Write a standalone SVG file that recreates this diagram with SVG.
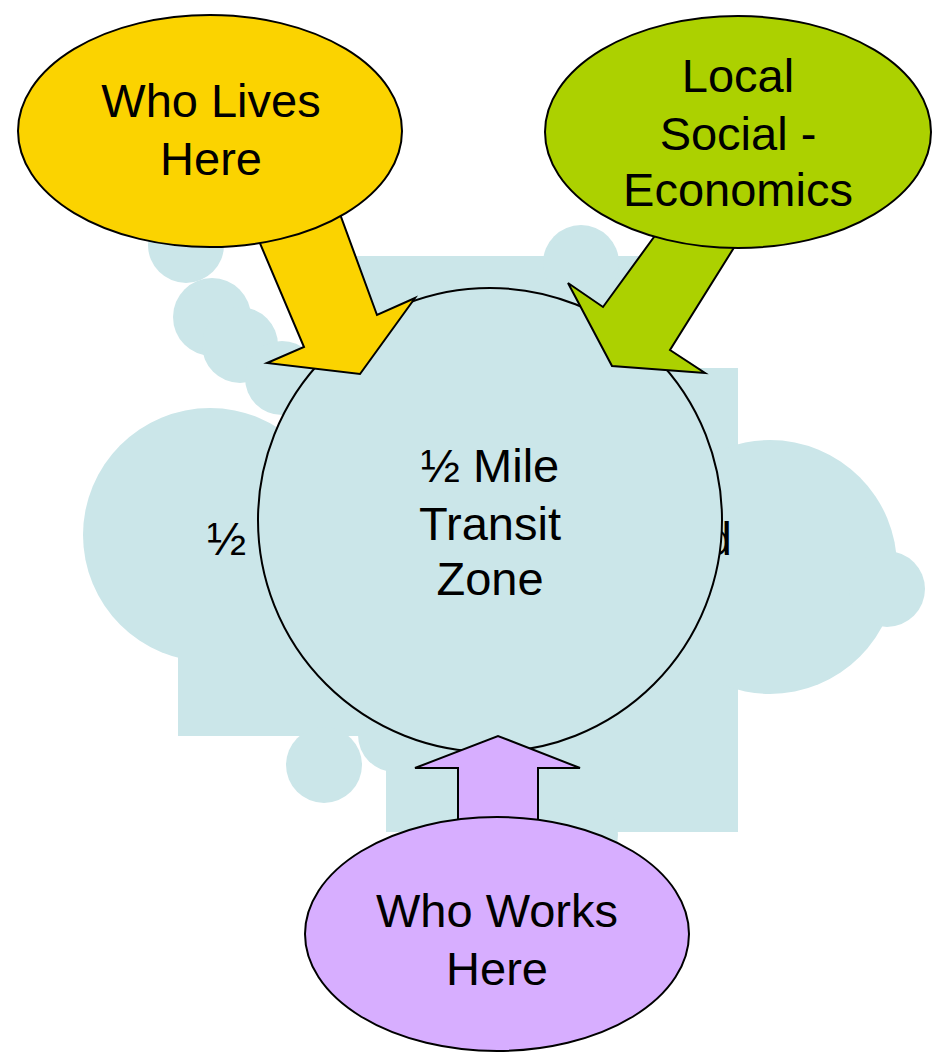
<svg xmlns="http://www.w3.org/2000/svg" width="939" height="1053" viewBox="0 0 939 1053">
<style>
.cloud{fill:#CBE6E9}
.t{font-family:"Liberation Sans",Arial,sans-serif;font-size:47px;fill:#000;text-anchor:middle}
.ln{stroke:#000;stroke-width:2;stroke-linejoin:miter}
</style>
<rect width="939" height="1053" fill="#fff"/>
<g id="background-cloud" class="cloud">
<circle cx="186" cy="245" r="38"/>
<circle cx="212" cy="317" r="39"/>
<circle cx="240" cy="345" r="38"/>
<circle cx="282" cy="378" r="37"/>
<circle cx="210" cy="535" r="127"/>
<rect x="178" y="470" width="300" height="266"/>
<rect x="300" y="380" width="200" height="200"/>
<rect x="353" y="256" width="310" height="300"/>
<circle cx="581" cy="263" r="38"/>
<rect x="420" y="368" width="318" height="464"/>
<circle cx="770" cy="567" r="127"/>
<circle cx="887" cy="589" r="38"/>
<circle cx="324" cy="765" r="38"/>
<circle cx="395" cy="735" r="37"/>
<rect x="386" y="700" width="240" height="132"/>
<circle cx="580" cy="835" r="38"/>
<text class="t" x="207" y="555" style="text-anchor:start">½</text>
<text class="t" x="732" y="555" style="text-anchor:end">d</text>
</g>
<g id="transit-zone">
<circle cx="490" cy="520" r="232" fill="#CBE6E9" class="ln"/>
<text class="t" x="490" y="482">½ Mile</text>
<text class="t" x="490" y="540">Transit</text>
<text class="t" x="490" y="595">Zone</text>
</g>
<g id="connectors">
<polygon class="ln" fill="#FBD300" points="248,215 333,195 377,315 415,298 360,374 267,363 304,347"/>
<polygon class="ln" fill="#ACD100" points="670,215 745,230 670,350 705,373 612,366 568,283 603,307"/>
<polygon class="ln" fill="#D7AEFF" points="458,840 458,768 415,768 498,736 580,768 538,768 538,840"/>
</g>
<g id="who-lives-here">
<ellipse cx="210" cy="131" rx="192" ry="116" fill="#FBD300" class="ln"/>
<text class="t" x="211" y="117">Who Lives</text>
<text class="t" x="211" y="175">Here</text>
</g>
<g id="local-social-economics">
<ellipse cx="738" cy="132" rx="193" ry="116" fill="#ACD100" class="ln"/>
<text class="t" x="738" y="92">Local</text>
<text class="t" x="738" y="150">Social -</text>
<text class="t" x="738" y="206">Economics</text>
</g>
<g id="who-works-here">
<ellipse cx="497" cy="934" rx="192" ry="117" fill="#D7AEFF" class="ln"/>
<text class="t" x="497" y="927">Who Works</text>
<text class="t" x="497" y="985">Here</text>
</g>
</svg>
